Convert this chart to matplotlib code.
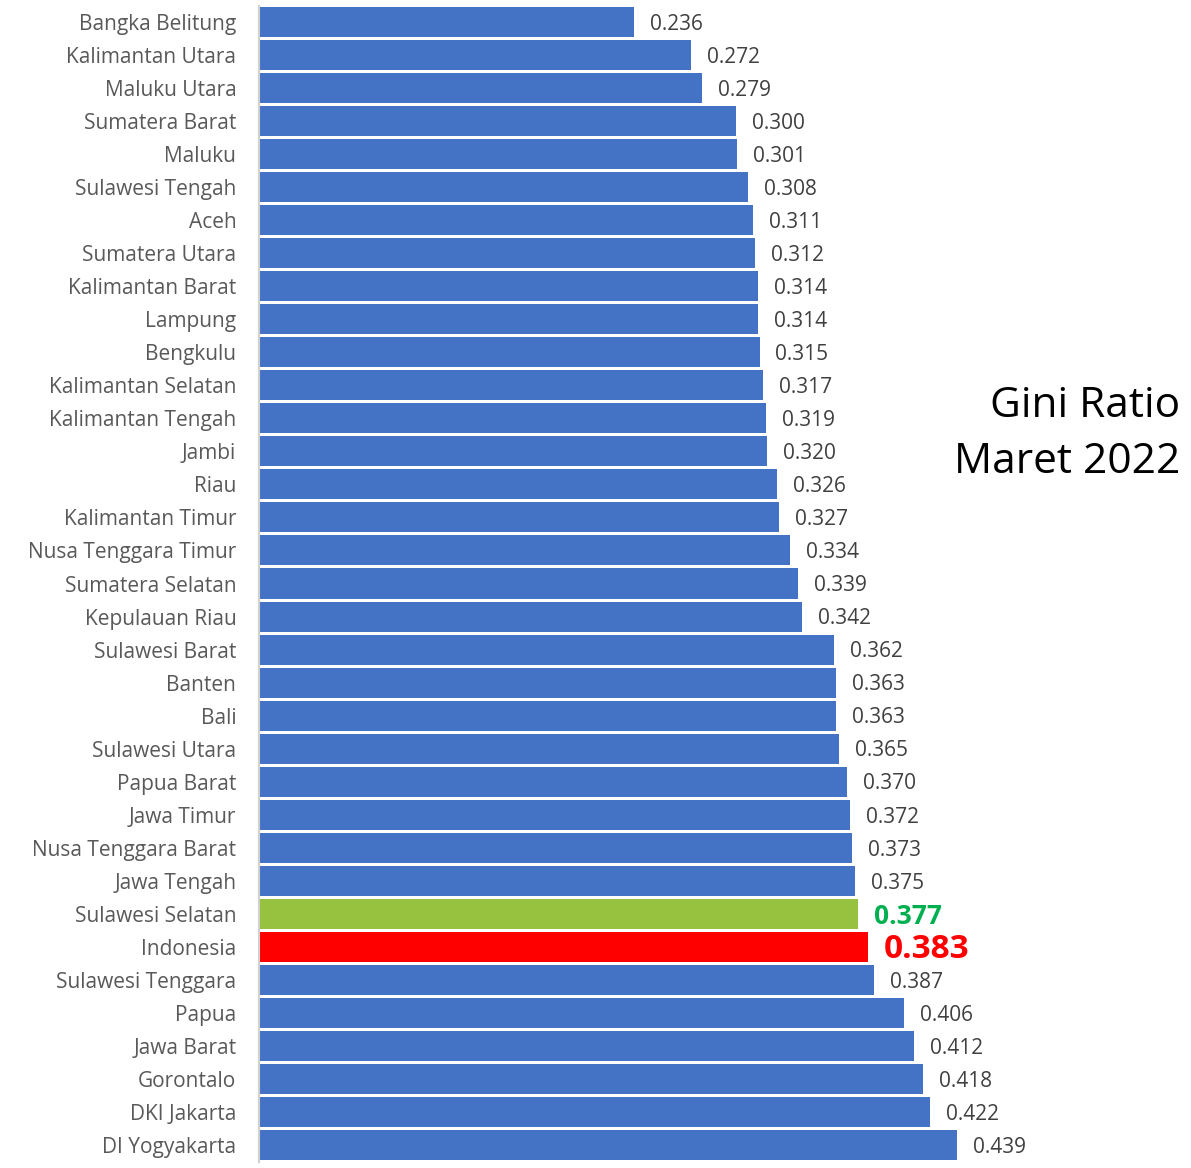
import matplotlib.pyplot as plt

plt.rcParams['font.family'] = ['Open Sans', 'DejaVu Sans']

provinsi = ['Bangka Belitung', 'Kalimantan Utara', 'Maluku Utara', 'Sumatera Barat', 'Maluku',
            'Sulawesi Tengah', 'Aceh', 'Sumatera Utara', 'Kalimantan Barat', 'Lampung',
            'Bengkulu', 'Kalimantan Selatan', 'Kalimantan Tengah', 'Jambi', 'Riau',
            'Kalimantan Timur', 'Nusa Tenggara Timur', 'Sumatera Selatan', 'Kepulauan Riau',
            'Sulawesi Barat', 'Banten', 'Bali', 'Sulawesi Utara', 'Papua Barat', 'Jawa Timur',
            'Nusa Tenggara Barat', 'Jawa Tengah', 'Sulawesi Selatan', 'Indonesia',
            'Sulawesi Tenggara', 'Papua', 'Jawa Barat', 'Gorontalo', 'DKI Jakarta', 'DI Yogyakarta']
gini = [0.236, 0.272, 0.279, 0.300, 0.301, 0.308, 0.311, 0.312, 0.314, 0.314,
        0.315, 0.317, 0.319, 0.320, 0.326, 0.327, 0.334, 0.339, 0.342, 0.362,
        0.363, 0.363, 0.365, 0.370, 0.372, 0.373, 0.375, 0.377, 0.383, 0.387,
        0.406, 0.412, 0.418, 0.422, 0.439]

W, H = 1191, 1168
fig = plt.figure(figsize=(W/100, H/100), dpi=100)
ax = fig.add_axes([258.5/W, 1-1161.5/H, (1181-258.5)/W, (1161.5-5.5)/H])

warna = []
for p in provinsi:
    if p == 'Sulawesi Selatan':
        warna.append('#96c23f')
    elif p == 'Indonesia':
        warna.append('#ff0000')
    else:
        warna.append('#4472c4')

y = list(range(len(provinsi)))
ax.barh(y, gini, height=0.91, color=warna, edgecolor='none')
ax.set_xlim(0, 0.58)
ax.set_ylim(len(provinsi)-0.5, -0.5)
ax.set_yticks(y)
ax.set_yticklabels(provinsi, fontsize=15, color='#595959')
ax.tick_params(axis='y', length=0, pad=16)
ax.set_xticks([])
for s in ['top', 'right', 'bottom']:
    ax.spines[s].set_visible(False)
ax.spines['left'].set_color('#d0d0d0')
ax.spines['left'].set_linewidth(1.5)

for i, (p, v) in enumerate(zip(provinsi, gini)):
    if p == 'Sulawesi Selatan':
        ax.text(v+0.01, i+0.07, f'{v:.3f}', va='center', ha='left', fontsize=19,
                color='#00b050', fontweight='bold')
    elif p == 'Indonesia':
        ax.text(v+0.01, i+0.07, f'{v:.3f}', va='center', ha='left', fontsize=24,
                color='#ff0000', fontweight='bold')
    else:
        ax.text(v+0.01, i+0.07, f'{v:.3f}', va='center', ha='left', fontsize=15,
                color='#404040')

fig.text(1180/W, 1-434/H, 'Gini Ratio\nMaret 2022', ha='right', va='center',
         fontsize=30.5, color='black', linespacing=1.42)

plt.savefig('out.png', dpi=100)
